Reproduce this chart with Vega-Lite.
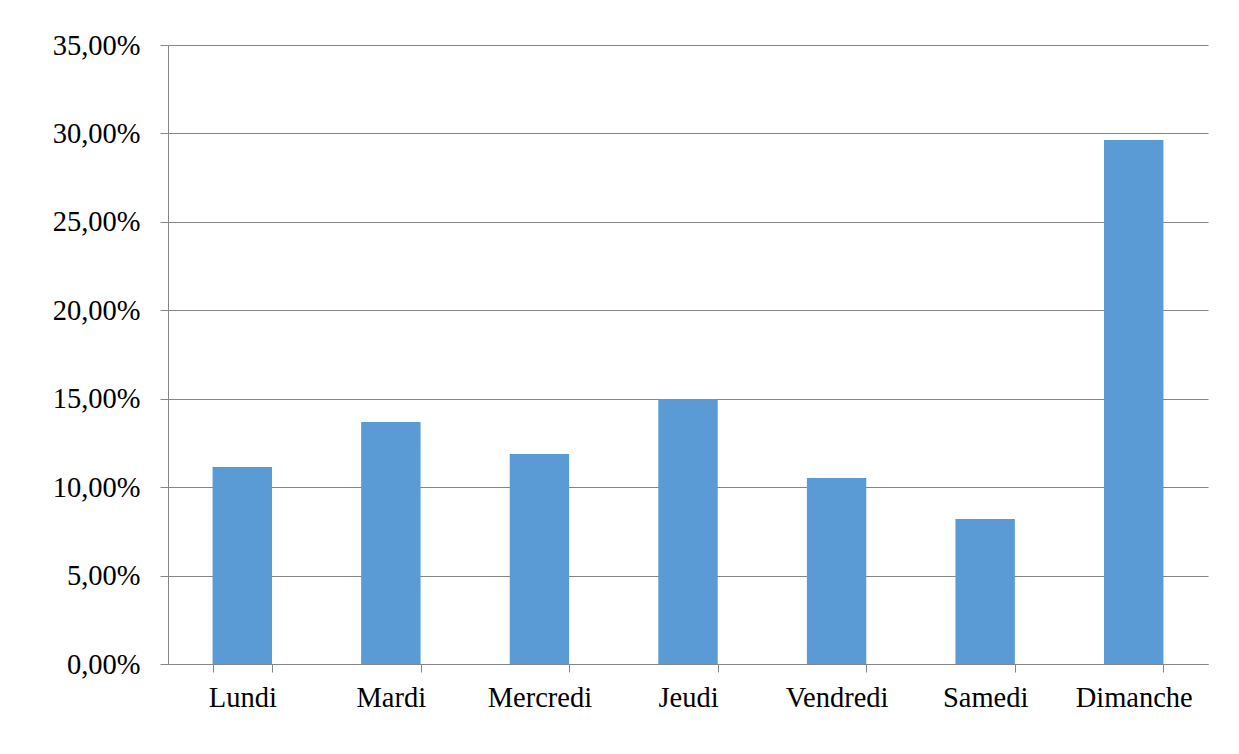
{
  "$schema": "https://vega.github.io/schema/vega-lite/v6.json",
  "width": 1040,
  "height": 619,
  "autosize": {"type": "none"},
  "padding": {"left": 168, "top": 45, "right": 31, "bottom": 90},
  "background": "white",
  "config": {
    "view": {"stroke": null},
    "font": "Liberation Serif"
  },
  "data": {
    "values": [
      {"jour": "Lundi", "part": 0.1114},
      {"jour": "Mardi", "part": 0.1368},
      {"jour": "Mercredi", "part": 0.1187},
      {"jour": "Jeudi", "part": 0.1498},
      {"jour": "Vendredi", "part": 0.1052},
      {"jour": "Samedi", "part": 0.0820},
      {"jour": "Dimanche", "part": 0.2963}
    ]
  },
  "mark": {"type": "bar", "color": "#5B9BD5"},
  "encoding": {
    "x": {
      "field": "jour",
      "type": "nominal",
      "sort": null,
      "title": null,
      "scale": {"paddingInner": 0.6, "paddingOuter": 0.3},
      "axis": {
        "tickBand": "extent",
        "labelAngle": 0,
        "labelFont": "Liberation Serif",
        "labelFontSize": 28.5,
        "labelColor": "#000000",
        "labelPadding": 11,
        "tickSize": 8,
        "tickColor": "#868686",
        "domainColor": "#868686",
        "grid": false
      }
    },
    "y": {
      "field": "part",
      "type": "quantitative",
      "title": null,
      "scale": {"domain": [0, 0.35], "nice": false},
      "axis": {
        "values": [0, 0.05, 0.1, 0.15, 0.2, 0.25, 0.3, 0.35],
        "labelExpr": "replace(format(datum.value, '.2%'), '.', ',')",
        "labelFont": "Liberation Serif",
        "labelFontSize": 28.5,
        "labelColor": "#000000",
        "labelPadding": 20,
        "labelBaseline": "middle",
        "tickSize": 8,
        "tickColor": "#868686",
        "domainColor": "#868686",
        "grid": true,
        "gridColor": "#868686",
        "gridWidth": 1
      }
    }
  }
}
